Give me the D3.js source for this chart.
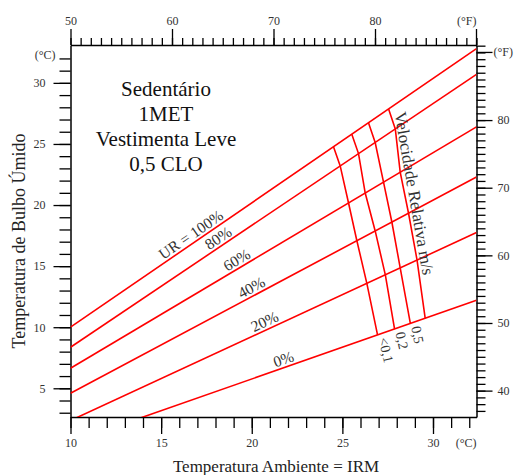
<!DOCTYPE html>
<html>
<head>
<meta charset="utf-8">
<script src="https://cdnjs.cloudflare.com/ajax/libs/d3/7.8.5/d3.min.js"></script>
<style>
body { margin: 0; background: #fff; }
text { font-family: "Liberation Serif", "Times New Roman", serif; }
</style>
</head>
<body>
<div id="chart"></div>
<script>
// linhas de umidade relativa: temperatura ambiente -> bulbo umido (°C)
var rhLabels = ["UR = 100%", "80%", "60%", "40%", "20%", "0%"];
var rhAmbStart = [10, 10, 10, 10, 10, 10];
var rhWetStart = [10, 8.36, 6.64, 4.59, 2.36, 0.57];
var rhAmbEnd = [32.4, 32.4, 32.4, 32.4, 32.4, 32.4];
var rhWetEnd = [32.8, 30.7, 26.4, 22.3, 17.75, 12.2];
var rhLabelAt = [16.9, 18.4, 19.4, 20.2, 20.9, 21.9];

// linhas de velocidade relativa (m/s): cruzamentos com UR 100% ... 0%
var velLabels = ["<0,1", "0,2", "0,5", ""];
var velAmb = [
    [24.51, 24.88, 25.34, 25.80, 26.35, 26.94],
    [25.52, 25.89, 26.26, 26.81, 27.37, 27.88],
    [26.44, 26.81, 27.27, 27.73, 28.19, 28.75],
    [27.55, 27.92, 28.19, 28.65, 29.12, 29.57]
];
var velWet = [
    [24.77, 23.20, 20.17, 17.08, 13.59, 9.37],
    [25.80, 24.21, 20.98, 17.88, 14.29, 9.85],
    [26.73, 25.12, 21.87, 18.61, 14.86, 10.31],
    [27.86, 26.23, 22.69, 19.33, 15.50, 10.73]
];
var velTitle = "Velocidade Relativa m/s";

var textBlock = ["Sedentário", "1MET", "Vestimenta Leve", "0,5 CLO"];

var bottomMajor = [10, 15, 20, 25, 30];
var leftMajor = [5, 10, 15, 20, 25, 30];
var topMajor = [50, 60, 70, 80];
var rightMajor = [40, 50, 60, 70, 80];

var margin = { top: 45, right: 37.5, bottom: 58, left: 70.5 };
var width = 514 - margin.left - margin.right;
var height = 475 - margin.top - margin.bottom;

var svg = d3.select("#chart").append("svg")
    .attr("width", 514)
    .attr("height", 475)
    .append("g").attr("transform", "translate(" + margin.left + "," + margin.top + ")");

var x = d3.scaleLinear().domain([10, 32.4]).range([0, width]);
var y = d3.scaleLinear().domain([2.65, 33.1]).range([height, 0]);
var xF = d3.scaleLinear().domain([50, 90]).range([0, width]);
var yF = d3.scaleLinear().domain([36.1, 91.1]).range([height, 0]);

function styleAxis(g) {
    g.selectAll("line").attr("stroke", "#000").attr("stroke-width", 1.3);
    g.selectAll(".domain").attr("stroke", "#000").attr("stroke-width", 1.5);
    g.selectAll("text").attr("font-size", 12).attr("fill", "#333")
        .style("font-family", "'Liberation Serif', serif");
}

function drawAxis(axisFn, scale, minor, major, minorLen, majorLen, pad, tr) {
    var gMinor = svg.append("g").attr("transform", tr)
        .call(axisFn(scale).tickValues(minor).tickSize(minorLen).tickSizeOuter(0).tickFormat(""));
    var gMajor = svg.append("g").attr("transform", tr)
        .call(axisFn(scale).tickValues(major).tickSize(majorLen).tickPadding(pad).tickFormat(d3.format("d")));
    gMajor.select(".domain").remove();
    styleAxis(gMinor);
    styleAxis(gMajor);
    return gMajor;
}

drawAxis(d3.axisBottom, x, d3.range(10, 33), bottomMajor, 11, 17, 4, "translate(0," + height + ")");
drawAxis(d3.axisLeft, y, d3.range(3, 33), leftMajor, 11, 17, 8, "translate(0,0)");
drawAxis(d3.axisTop, xF, d3.range(50, 91), topMajor, 7, 16, 4, "translate(0,0)");
drawAxis(d3.axisRight, yF, d3.range(37, 92), rightMajor, 9, 16, 5, "translate(" + width + ",0)");

// marcas longas das unidades
svg.append("line").attr("x1", xF(90)).attr("x2", xF(90)).attr("y1", 0).attr("y2", -16)
    .attr("stroke", "#000").attr("stroke-width", 1.3);
svg.append("line").attr("x1", width).attr("x2", width + 16).attr("y1", yF(90)).attr("y2", yF(90))
    .attr("stroke", "#000").attr("stroke-width", 1.3);

function unit(txt, px, py, anchor) {
    svg.append("text").attr("x", px).attr("y", py).attr("text-anchor", anchor)
        .attr("font-size", 12).attr("fill", "#333").text(txt);
}
unit("(°C)", width, height + 30, "end");
unit("(°C)", -15, y(32) + 1, "end");
unit("(°F)", xF(90), -20, "end");
unit("(°F)", width + 17, yF(90) + 4, "start");

// titulos dos eixos
svg.append("text")
    .attr("x", 276 - margin.left).attr("y", height + 55)
    .attr("text-anchor", "middle").attr("font-size", 17).attr("fill", "#222")
    .text("Temperatura Ambiente = IRM");
svg.append("text")
    .attr("transform", "translate(" + (25 - margin.left) + "," + (241 - margin.top) + ") rotate(-90)")
    .attr("text-anchor", "middle").attr("font-size", 18).attr("fill", "#222")
    .text("Temperatura de Bulbo Úmido");

svg.append("clipPath").attr("id", "plotClip")
    .append("rect").attr("width", width).attr("height", height);

var plot = svg.append("g").attr("clip-path", "url(#plotClip)");
var line = d3.line().x(function (d) { return x(d[0]); }).y(function (d) { return y(d[1]); });

rhLabels.forEach(function (lab, i) {
    var pts = [[rhAmbStart[i], rhWetStart[i]], [rhAmbEnd[i], rhWetEnd[i]]];
    plot.append("path").attr("d", line(pts))
        .attr("fill", "none").attr("stroke", "#ff0000").attr("stroke-width", 1.6);

    var t = rhLabelAt[i];
    var w = rhWetStart[i] + (t - rhAmbStart[i]) * (rhWetEnd[i] - rhWetStart[i]) / (rhAmbEnd[i] - rhAmbStart[i]);
    var ang = Math.atan2(y(rhWetEnd[i]) - y(rhWetStart[i]), x(rhAmbEnd[i]) - x(rhAmbStart[i])) * 180 / Math.PI;
    svg.append("text")
        .attr("transform", "translate(" + x(t) + "," + y(w) + ") rotate(" + ang + ")")
        .attr("text-anchor", "middle").attr("dy", -3)
        .attr("font-size", 15.5).attr("fill", "#333")
        .text(lab);
});

velAmb.forEach(function (amb, j) {
    var pts = amb.map(function (a, k) { return [a, velWet[j][k]]; });
    plot.append("path").attr("d", line(pts))
        .attr("fill", "none").attr("stroke", "#ff0000").attr("stroke-width", 1.6);

    var p0 = pts[0], p1 = pts[pts.length - 1];
    var ang = Math.atan2(y(p1[1]) - y(p0[1]), x(p1[0]) - x(p0[0])) * 180 / Math.PI;
    if (velLabels[j]) {
        svg.append("text")
            .attr("transform", "translate(" + x(p1[0]) + "," + y(p1[1]) + ") rotate(" + ang + ")")
            .attr("dx", 4).attr("font-size", 14).attr("fill", "#333")
            .text(velLabels[j]);
    }
    if (j === velAmb.length - 1) {
        svg.append("text")
            .attr("transform", "translate(" + x(p0[0]) + "," + y(p0[1]) + ") rotate(" + ang + ")")
            .attr("dx", 5).attr("dy", -5).attr("font-size", 17).attr("fill", "#333")
            .text(velTitle);
    }
});

// condicoes
svg.append("g").selectAll("text").data(textBlock).enter().append("text")
    .attr("x", 166 - margin.left)
    .attr("y", function (d, i) { return 96 - margin.top + i * 25; })
    .attr("text-anchor", "middle").attr("font-size", 21).attr("fill", "#111")
    .text(function (d) { return d; });
</script>
</body>
</html>
